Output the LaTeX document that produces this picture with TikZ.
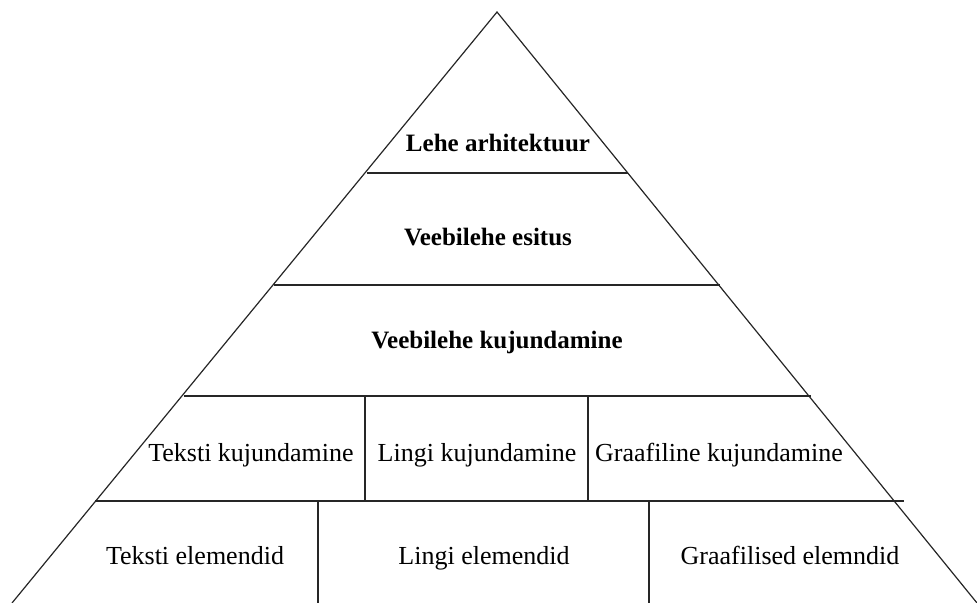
\documentclass[tikz,border=0pt]{standalone}
\usepackage{fontspec}
\setmainfont{Liberation Serif}
\usetikzlibrary{positioning,calc}

\begin{document}
\begin{tikzpicture}[
  x=0.5pt, y=-0.5pt,
  edge/.style={black!85, line width=0.6pt},
  lbl/.style={font=\fontsize{13}{15}\selectfont, inner sep=1pt, text height=2ex, text depth=.5ex},
  hd/.style={lbl, font=\fontsize{12.5}{14}\selectfont\bfseries}]
\useasboundingbox (0,0) rectangle (977,603);
% ---------------- outline
\coordinate (top) at (497,12);
\coordinate (bl) at (12,603);
\coordinate (br) at (977,603);
\draw[edge] (bl) -- (top) -- (br);
% ---------------- levels
\draw[edge] (367,173) -- (628,173);
\draw[edge] (274,285) -- (720,285);
\draw[edge] (184,396) -- (811,396);
\draw[edge] (95,501) -- (904,501);
\draw[edge] (365,396) -- (365,501);
\draw[edge] (588,396) -- (588,501);
\draw[edge] (318,501) -- (318,603);
\draw[edge] (649,501) -- (649,603);
% ---------------- labels
\node[hd] (arh) at (498,145) {Lehe arhitektuur};
\node[hd] (esi) at (488,239) {Veebilehe esitus};
\node[hd] (kuj) at (497,342) {Veebilehe kujundamine};
\node[lbl] (tk) at (251,455) {Teksti kujundamine};
\node[lbl] (lk) at (477,455) {Lingi kujundamine};
\node[lbl] (gk) at (719,455) {Graafiline kujundamine};
\node[lbl] (te) at (195,558) {Teksti elemendid};
\node[lbl] (le) at (484,558) {Lingi elemendid};
\node[lbl] (ge) at (790,558) {Graafilised elemndid};
\end{tikzpicture}
\end{document}
